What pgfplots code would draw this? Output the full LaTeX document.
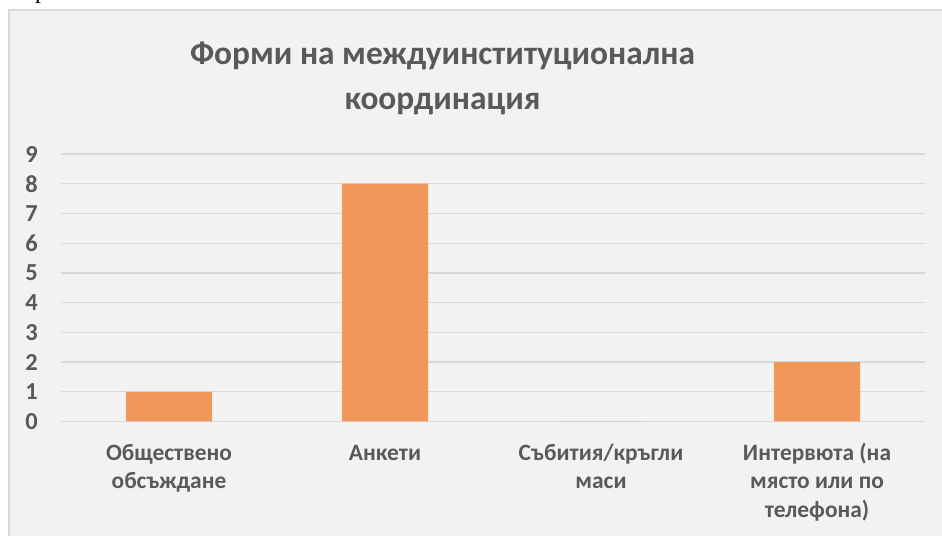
\documentclass[border=0pt]{standalone}
\usepackage{pgfplots}
\pgfplotsset{compat=1.18}
\usepackage{fontspec}
\setmainfont{Carlito}
\newfontfamily\serifcut{Liberation Serif}
\definecolor{bg}{HTML}{F2F2F2}
\definecolor{gridc}{HTML}{D9D9D9}
\definecolor{txt}{HTML}{595959}
\definecolor{barc}{HTML}{F1975A}
\newcommand\fs{\rule{0pt}{19bp}}
\begin{document}
\begin{tikzpicture}[x=1bp,y=1bp]
\useasboundingbox (0,0) rectangle (942,536);
\fill[white] (0,0) rectangle (942,536);
\fill[bg] (9,0) rectangle (942,526);
\draw[gridc, line width=1.5bp] (9,0) -- (9,526) -- (942,526);
\begin{scope}
\clip (0,527) rectangle (942,536);
\node[anchor=base west, inner sep=0pt, font=\serifcut\fontsize{24}{28}\selectfont] at (35,537) {р};
\end{scope}
\node[anchor=base, inner sep=0pt, text=txt, font=\bfseries\fontsize{33.5}{40}\selectfont] at (442.5,471) {Форми на междуинституционална};
\node[anchor=base, inner sep=0pt, text=txt, font=\bfseries\fontsize{33.5}{40}\selectfont] at (442.5,426) {координация};
\begin{axis}[
  at={(61bp,114.5bp)}, anchor=south west,
  scale only axis, width=864bp, height=267.5bp,
  xmin=-0.5, xmax=3.5, ymin=0, ymax=9,
  ybar, bar width=86bp,
  axis line style={draw=none},
  major tick length=0pt,
  ymajorgrids, grid style={gridc, line width=1.3bp},
  ytick={0,1,2,3,4,5,6,7,8,9},
  xtick={0,1,2,3},
  xticklabels={{\fs Обществено\\обсъждане},{\fs Анкети},{\fs Събития/кръгли\\маси},{\fs Интервюта (на\\място или по\\телефона)}},
  /pgf/number format/assume math mode=true,
  yticklabel style={anchor=east, inner sep=0pt, xshift=-23bp, text=txt, font=\bfseries\fontsize{24.5}{29}\selectfont},
  xticklabel style={anchor=north, inner sep=0pt, yshift=-19.5bp, align=center, text=txt, font=\bfseries\fontsize{23.5}{28.8}\selectfont},
  clip=false,
]
\addplot[fill=barc, draw=none] coordinates {(0,1) (1,8) (2,0) (3,2)};
\end{axis}
\end{tikzpicture}
\end{document}
